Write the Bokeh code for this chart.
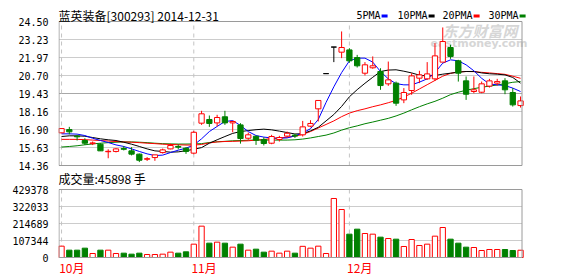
import numpy as np
from bokeh.plotting import figure
from bokeh.models import Range1d, FixedTicker, Label, BoxAnnotation, ColumnDataSource
from bokeh.layouts import column
from bokeh.embed import file_html
from bokeh.resources import INLINE

# ---------------- data ----------------
title_text = "蓝英装备[300293] 2014-12-31"
volume_title = "成交量:45898 手"
month_labels = ["10月", "11月", "12月"]
month_start_idx = [0, 17, 37]
price_tick_labels = ["14.36", "15.63", "16.90", "18.16", "19.43", "20.70", "21.97", "23.23", "24.50"]
volume_tick_labels = ["0", "107344", "214689", "322033", "429378"]
ma_names = ["5PMA", "10PMA", "20PMA", "30PMA"]

open_ = [16.66, 16.89, 16.43, 16.12, 15.90, 15.86, 15.33, 15.35, 15.56, 15.39,
         15.16, 14.80, 14.92, 15.27, 15.53, 15.70, 15.58, 15.23, 17.34, 17.60,
         17.36, 17.79, 17.36, 17.22, 16.28, 16.42, 16.19, 15.93, 16.19, 16.43,
         16.50, 16.52, 17.13, 18.35, 20.83, 22.70, 22.34, 22.50, 21.96, 20.86,
         21.24, 20.98, 20.11, 20.16, 18.98, 19.64, 20.51, 20.46, 20.46, 21.64,
         22.67, 21.73, 20.32, 19.57, 19.52, 19.95, 20.16, 20.32, 19.50, 18.58]
high = [16.96, 17.08, 16.52, 16.28, 16.05, 15.93, 15.50, 15.58, 15.73, 15.65,
        15.20, 14.95, 15.11, 15.55, 15.90, 15.85, 15.64, 16.80, 18.21, 17.88,
        17.93, 18.21, 17.50, 17.34, 16.68, 16.45, 16.35, 16.52, 16.45, 16.75,
        16.58, 17.50, 17.55, 18.94, 20.83, 22.70, 23.80, 22.62, 22.15, 21.64,
        22.04, 21.21, 21.68, 20.27, 19.81, 20.86, 21.03, 21.64, 22.97, 24.08,
        22.86, 21.80, 20.63, 20.63, 20.27, 20.46, 20.46, 20.51, 19.81, 19.22]
low = [16.66, 16.55, 16.12, 15.80, 15.80, 15.39, 14.87, 15.28, 15.42, 15.07,
       14.60, 14.68, 14.69, 15.20, 15.50, 15.50, 15.18, 15.15, 17.22, 17.08,
       17.11, 17.22, 16.70, 15.90, 16.17, 15.81, 15.77, 15.86, 16.05, 16.33,
       16.30, 16.40, 17.05, 17.46, 20.83, 21.64, 21.92, 21.59, 21.26, 20.70,
       21.17, 19.69, 19.97, 18.56, 18.75, 19.34, 20.16, 20.39, 20.32, 21.64,
       21.87, 20.27, 18.98, 19.45, 19.45, 19.85, 19.99, 19.38, 18.51, 18.44]
close = [16.96, 16.73, 16.38, 15.93, 15.95, 15.39, 15.36, 15.53, 15.50, 15.16,
         14.73, 14.84, 15.11, 15.46, 15.77, 15.65, 15.35, 16.70, 18.00, 17.32,
         17.74, 17.36, 17.46, 16.26, 16.52, 16.14, 15.91, 16.40, 16.33, 16.63,
         16.43, 17.08, 17.32, 18.94, 20.83, 22.70, 22.67, 21.73, 21.38, 21.45,
         21.38, 19.99, 20.39, 18.75, 19.50, 20.67, 20.74, 20.81, 22.08, 23.09,
         22.04, 20.86, 19.38, 19.69, 20.11, 20.32, 20.27, 19.69, 18.63, 18.91]
volume = [71563, 46305, 46305, 58935, 25257, 46305, 46305, 25257, 27362, 21048,
          27362, 18943, 18943, 21048, 33677, 27362, 35781, 84192, 197849, 90506,
          96820, 90506, 65248, 84192, 46305, 52620, 33677, 39991, 27362, 39991,
          27362, 70500, 58935, 71563, 25257, 372553, 303090, 147335, 178908, 151545,
          147335, 128392, 119973, 115763, 69459, 113658, 75773, 84192, 134706, 189431,
          115763, 90506, 65248, 63143, 44200, 50515, 50515, 50515, 44200, 45898]

ma5 = [16.59, 16.59, 16.57, 16.47, 16.28, 16.12, 15.98, 15.81, 15.70, 15.53,
       15.35, 15.18, 15.06, 15.09, 15.27, 15.44, 15.58, 15.80, 16.24, 16.75,
       17.11, 17.46, 17.52, 17.18, 16.75, 16.47, 16.36, 16.30, 16.28, 16.30,
       16.45, 16.65, 16.95, 17.60, 18.80, 19.90, 20.90, 21.73, 21.92, 21.92,
       21.64, 20.98, 20.46, 20.12, 20.04, 20.04, 20.23, 20.46, 20.90, 21.57,
       21.80, 21.73, 21.45, 21.03, 20.50, 20.10, 20.04, 19.99, 19.81, 19.57]
ma10 = [16.40, 16.45, 16.45, 16.42, 16.33, 16.24, 16.17, 16.12, 16.00, 15.86,
        15.70, 15.53, 15.39, 15.35, 15.30, 15.32, 15.40, 15.50, 15.62, 15.93,
        16.17, 16.40, 16.62, 16.75, 16.82, 16.88, 16.92, 16.87, 16.78, 16.68,
        16.58, 16.60, 16.80, 17.05, 17.50, 17.95, 18.52, 19.20, 19.70, 20.15,
        20.57, 20.98, 21.08, 21.10, 21.00, 20.88, 20.72, 20.66, 20.70, 20.79,
        20.86, 20.93, 20.98, 20.98, 20.88, 20.82, 20.79, 20.74, 20.56, 20.16]
ma20 = [16.20, 16.20, 16.20, 16.18, 16.15, 16.12, 16.08, 16.05, 16.02, 16.00,
        15.97, 15.93, 15.90, 15.86, 15.84, 15.82, 15.80, 15.80, 15.84, 15.95,
        16.02, 16.05, 16.06, 16.08, 16.10, 16.15, 16.20, 16.25, 16.30, 16.35,
        16.42, 16.55, 16.75, 17.00, 17.25, 17.50, 17.80, 18.05, 18.22, 18.35,
        18.50, 18.63, 18.78, 18.95, 19.18, 19.45, 19.75, 20.05, 20.35, 20.65,
        20.85, 20.95, 20.98, 20.97, 20.92, 20.88, 20.83, 20.78, 20.65, 20.50]
ma30 = [15.66, 15.70, 15.75, 15.82, 15.88, 15.93, 15.97, 16.00, 16.02, 16.02,
        16.00, 15.97, 15.93, 15.90, 15.88, 15.87, 15.87, 15.88, 15.90, 15.98,
        16.03, 16.06, 16.10, 16.12, 16.14, 16.15, 16.15, 16.15, 16.15, 16.15,
        16.17, 16.22, 16.30, 16.40, 16.50, 16.65, 16.85, 17.02, 17.15, 17.30,
        17.42, 17.55, 17.68, 17.85, 18.05, 18.28, 18.50, 18.70, 18.88, 19.10,
        19.35, 19.52, 19.66, 19.77, 19.87, 19.95, 20.03, 20.12, 20.22, 20.27]

# ---------------- styling / layout constants ----------------
RED = "#ff0000"
GREEN = "#008000"
BLUE = "#0000ff"
BLACK = "#000000"
GRID = "#cccccc"
GRID_MID = "#a8a8a8"
FRAME = "#9a9a9a"
DASH = "#c4c4c4"
MONO = "DejaVu Sans Mono"
CJK = "Noto Sans CJK SC"
ma_colors = [BLUE, BLACK, RED, GREEN]

W, H = 578, 276
LEFT = 58                 # box left edge on canvas
BOX_RIGHT = 522           # box right edge on canvas
P_H = 170                 # price figure canvas height (covers y 0..P_H)
P_TOP_PX, P_BOT_PX = 21, 165
V_H = H - P_H
V_TOP_PX, V_BOT_PX = 189, 257

n = len(close)
idx = np.arange(n)
o = np.array(open_); c = np.array(close); h = np.array(high); l = np.array(low)
candle_col = [RED if cc > oo else (GREEN if cc < oo else BLACK) for oo, cc in zip(o, c)]
candle_fill = ["#ffffff" if cc > oo else (GREEN if cc < oo else BLACK) for oo, cc in zip(o, c)]
vol_col = [GREEN if cc < oo else RED for oo, cc in zip(o, c)]
vol_fill = [GREEN if cc < oo else "#ffffff" for oo, cc in zip(o, c)]

src = ColumnDataSource(dict(x=idx, o=o, c=c, h=h, l=l,
                            top=np.maximum(o, c), bot=np.minimum(o, c),
                            col=candle_col, fill=candle_fill,
                            vol=volume, vcol=vol_col, vfill=vol_fill))

# box x-extent in data units; frame extends to the canvas right edge
x0, x1 = -0.39, n - 1 + 0.25
xpx = (x1 - x0) / (BOX_RIGHT - LEFT)
x_range = Range1d(x0, x1 + (W - BOX_RIGHT) * xpx)
bx0, bx1 = x0 + 0.5 * xpx, x1 - 0.5 * xpx

pmin, pmax = float(price_tick_labels[0]), float(price_tick_labels[-1])
kp = (pmax - pmin) / (P_BOT_PX - P_TOP_PX)
vmax = float(volume_tick_labels[-1])
kv = vmax / (V_BOT_PX - V_TOP_PX)


def style_yaxis(fig, ticks, labels):
    fig.yaxis.ticker = FixedTicker(ticks=ticks)
    fig.yaxis.major_label_overrides = {t: s for t, s in zip(ticks, labels)}
    fig.yaxis.axis_line_color = None
    fig.yaxis.major_tick_line_color = None
    fig.yaxis.minor_tick_line_color = None
    fig.yaxis.major_label_standoff = 4
    fig.yaxis.major_label_text_font = MONO
    fig.yaxis.major_label_text_font_size = "10px"
    fig.yaxis.major_label_text_color = BLACK
    fig.ygrid.visible = False
    fig.xgrid.visible = False


def make_fig(height, y_range):
    f = figure(width=W, height=height, x_range=x_range, y_range=y_range,
               output_backend="svg", toolbar_location=None, x_axis_location=None,
               min_border_left=LEFT, min_border_right=0, min_border_top=0,
               min_border_bottom=0, background_fill_color="#ffffff",
               border_fill_color="#ffffff")
    f.outline_line_color = None
    return f


# ---------------- price panel ----------------
p = make_fig(P_H, Range1d(pmin - (P_H - P_BOT_PX) * kp, pmax + P_TOP_PX * kp))
pticks = list(np.linspace(pmin, pmax, len(price_tick_labels)))
style_yaxis(p, pticks, price_tick_labels)
mid = len(pticks) // 2
p.segment(x0=bx0, x1=bx1, y0=pticks, y1=pticks,
          line_color=[GRID_MID if i == mid else GRID for i in range(len(pticks))],
          line_width=1)
p.segment(x0=month_start_idx, y0=pmin, x1=month_start_idx, y1=pmax,
          line_color=DASH, line_dash="4 4", line_width=1)

# watermark
p.add_layout(Label(x=384, y=P_H - 40, x_units="screen", y_units="screen", text="东方财富网",
                   text_font=CJK, text_font_size="15px", text_font_style="bold italic",
                   text_color="#d6d6d6", text_baseline="bottom", level="underlay"))
p.add_layout(Label(x=372, y=P_H - 49, x_units="screen", y_units="screen", text="eastmoney.com",
                   text_font="DejaVu Sans", text_font_size="11px", text_font_style="bold",
                   text_color="#d6d6d6", text_baseline="bottom", level="underlay"))

for ma, col in zip([ma30, ma20, ma10, ma5], [GREEN, RED, BLACK, BLUE]):
    p.line(idx, ma, line_color=col, line_width=1)

p.segment(x0="x", y0="h", x1="x", y1="l", line_color="col", line_width=1, source=src)
p.vbar(x="x", width=0.68, top="top", bottom="bot", fill_color="fill", line_color="col",
       line_width=1, source=src)

p.quad(left=bx0, right=bx1, bottom=pmin, top=pmax, fill_color=None,
       line_color=FRAME, line_width=1)

# title and legend
p.add_layout(Label(x=0, y=P_H - 15, x_units="screen", y_units="screen", text=title_text,
                   text_font=CJK, text_font_size="12px", text_color=BLACK,
                   text_baseline="middle"))
leg_x = [298, 339, 384, 430]
for name, col, lx in zip(ma_names, ma_colors, leg_x):
    p.add_layout(Label(x=lx, y=P_H - 15, x_units="screen", y_units="screen", text=name,
                       text_font=MONO, text_font_size="10px", text_color=BLACK,
                       text_baseline="middle"))
    w = 6.02 * len(name)
    p.add_layout(BoxAnnotation(left=lx + w + 1, right=lx + w + 7,
                               bottom=P_H - 17, top=P_H - 14,
                               left_units="screen", right_units="screen",
                               top_units="screen", bottom_units="screen",
                               fill_color=col, fill_alpha=1, line_color=None))

# ---------------- volume panel ----------------
v = make_fig(V_H, Range1d(-(H - V_BOT_PX) * kv, vmax + (V_TOP_PX - P_H) * kv))
vticks = list(np.linspace(0, vmax, len(volume_tick_labels)))
style_yaxis(v, vticks, volume_tick_labels)
v.segment(x0=bx0, x1=bx1, y0=vticks, y1=vticks, line_color=GRID, line_width=1)
v.segment(x0=month_start_idx, y0=0, x1=month_start_idx, y1=vmax,
          line_color=DASH, line_dash="4 4", line_width=1)
v.vbar(x="x", width=0.68, top="vol", bottom=0, fill_color="vfill", line_color="vcol",
       line_width=1, source=src)
v.quad(left=bx0, right=bx1, bottom=0, top=vmax, fill_color=None,
       line_color=FRAME, line_width=1)
v.add_layout(Label(x=0, y=H - 178, x_units="screen", y_units="screen", text=volume_title,
                   text_font=CJK, text_font_size="12px", text_color=BLACK,
                   text_baseline="middle"))
for m, lab in zip(month_start_idx, month_labels):
    v.add_layout(Label(x=m - 0.3, y=H - 267, x_units="data", y_units="screen", text=lab,
                       text_font=CJK, text_font_size="12px", text_color=RED,
                       text_baseline="middle", text_align="left"))

layout = column(p, v, spacing=0)
open("out.html", "w").write(file_html(layout, INLINE))
